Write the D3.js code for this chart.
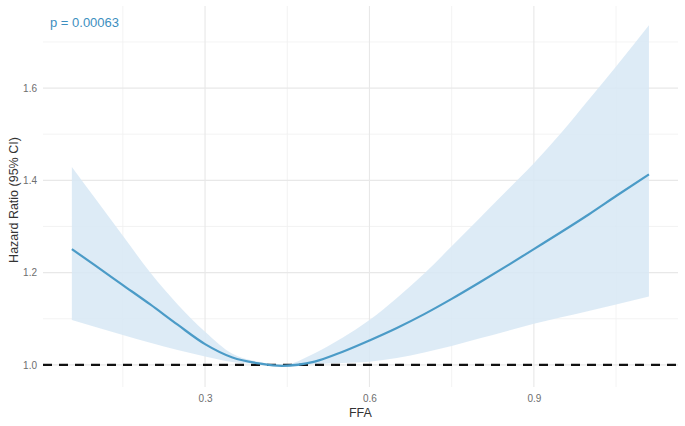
<!DOCTYPE html>
<html><head><meta charset="utf-8">
<script src="https://cdn.jsdelivr.net/npm/d3@7"></script>
<style>
body{margin:0;background:#fff;}
text{font-family:"Liberation Sans",Arial,sans-serif;}
</style></head>
<body><svg id="c" width="685" height="426"></svg>
<script>
const ffa   = [0.057, 0.1, 0.15, 0.2, 0.25, 0.3, 0.35, 0.4, 0.44, 0.5, 0.55, 0.6, 0.65, 0.7, 0.75, 0.8, 0.85, 0.9, 0.95, 1.0, 1.05, 1.11];
const hr    = [1.251, 1.215, 1.173, 1.131, 1.087, 1.045, 1.016, 1.003, 0.998, 1.007, 1.028, 1.053, 1.080, 1.110, 1.143, 1.178, 1.214, 1.251, 1.288, 1.326, 1.366, 1.413];
const upper = [1.429, 1.360, 1.280, 1.200, 1.131, 1.072, 1.024, 1.006, 0.999, 1.025, 1.058, 1.097, 1.145, 1.198, 1.257, 1.317, 1.377, 1.437, 1.503, 1.575, 1.647, 1.736];
const lower = [1.097, 1.082, 1.065, 1.048, 1.032, 1.018, 1.006, 1.001, 0.997, 1.002, 1.004, 1.007, 1.015, 1.027, 1.041, 1.057, 1.073, 1.089, 1.103, 1.117, 1.131, 1.148];
const xMajor = [0.3, 0.6, 0.9];
const xMinor = [0.15, 0.45, 0.75, 1.05];
const yMajor = [1.0, 1.2, 1.4, 1.6];
const yMinor = [1.1, 1.3, 1.5, 1.7];
const pLabel = "p = 0.00063";

const svg = d3.select("#c");
const x = d3.scaleLinear().domain([0.0043, 1.163]).range([43, 678]);
const y = d3.scaleLinear().domain([0.952, 1.778]).range([387, 6]);
const grid = svg.append("g");
xMinor.forEach(v=>grid.append("line").attr("x1",x(v)).attr("x2",x(v)).attr("y1",y.range()[0]).attr("y2",y.range()[1]).attr("stroke","#f0f0f0").attr("stroke-width",0.8));
yMinor.forEach(v=>grid.append("line").attr("y1",y(v)).attr("y2",y(v)).attr("x1",x.range()[0]).attr("x2",x.range()[1]).attr("stroke","#f0f0f0").attr("stroke-width",0.8));
xMajor.forEach(v=>grid.append("line").attr("x1",x(v)).attr("x2",x(v)).attr("y1",y.range()[0]).attr("y2",y.range()[1]).attr("stroke","#e8e8e8").attr("stroke-width",1.1));
yMajor.forEach(v=>grid.append("line").attr("y1",y(v)).attr("y2",y(v)).attr("x1",x.range()[0]).attr("x2",x.range()[1]).attr("stroke","#e8e8e8").attr("stroke-width",1.1));

const data = ffa.map((f,i)=>({f, h:hr[i], u:upper[i], l:lower[i]}));
svg.append("path").datum(data)
  .attr("d", d3.area().x(d=>x(d.f)).y0(d=>y(d.l)).y1(d=>y(d.u)).curve(d3.curveMonotoneX))
  .attr("fill","#d7e8f4").attr("opacity",0.85);

svg.append("line").attr("x1",x.range()[0]).attr("x2",x.range()[1]).attr("y1",y(1)).attr("y2",y(1))
  .attr("stroke","#111").attr("stroke-width",2.4).attr("stroke-dasharray","9,7");

svg.append("path").datum(data)
  .attr("d", d3.line().x(d=>x(d.f)).y(d=>y(d.h)).curve(d3.curveMonotoneX))
  .attr("fill","none").attr("stroke","#4b9bc7").attr("stroke-width",2.2);

const xAxis = svg.append("g").attr("transform",`translate(0,${y.range()[0]})`)
  .call(d3.axisBottom(x).tickValues(xMajor).tickFormat(d3.format(".1f")).tickSize(0).tickPadding(8));
xAxis.select(".domain").remove();
xAxis.selectAll("text").attr("fill","#6e6e6e").attr("font-size",10).attr("font-family","Liberation Sans, Arial, sans-serif");

const yAxis = svg.append("g").attr("transform",`translate(${x.range()[0]},0)`)
  .call(d3.axisLeft(y).tickValues(yMajor).tickFormat(d3.format(".1f")).tickSize(0).tickPadding(6));
yAxis.select(".domain").remove();
yAxis.selectAll("text").attr("fill","#6e6e6e").attr("font-size",10).attr("font-family","Liberation Sans, Arial, sans-serif");

svg.append("text").attr("x",x(0.6)-9).attr("y",417).attr("text-anchor","middle").attr("font-size",12.5).attr("fill","#333").text("FFA");
svg.append("text").attr("transform","translate(18,200) rotate(-90)").attr("text-anchor","middle").attr("font-size",12.5).attr("fill","#333").text("Hazard Ratio (95% CI)");
svg.append("text").attr("x",50).attr("y",27).attr("font-size",13).attr("fill","#3d8fc0").text(pLabel);
</script></body></html>
